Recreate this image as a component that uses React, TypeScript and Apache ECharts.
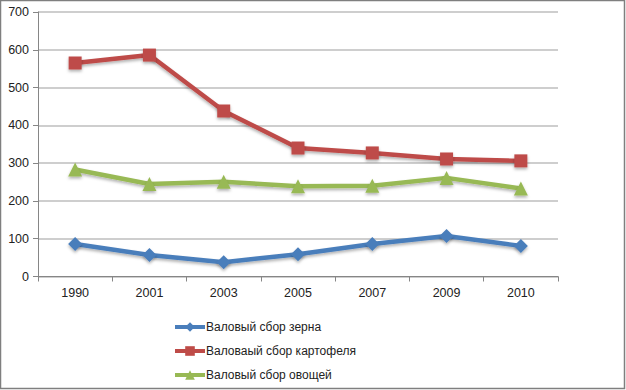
import React, { useEffect, useRef } from "react";
import * as echarts from "echarts";

const categories = ["1990", "2001", "2003", "2005", "2007", "2009", "2010"];
const grain = [86, 57, 38, 59, 86, 107, 81];
const potato = [565, 586, 438, 340, 327, 311, 306];
const vegetables = [283, 245, 251, 239, 240, 261, 233];
const seriesNames = ["Валовый сбор зерна", "Валоваый сбор картофеля", "Валовый сбор овощей"];

export default function App() {
  const ref = useRef<HTMLDivElement>(null);
  useEffect(() => {
    document.body.style.margin = "0";
    const chart = echarts.init(ref.current!, null, { renderer: "svg" });
    const font = "Liberation Sans";
    const mk = (name: string, data: number[], color: string, symbol: string, size: number) => ({
      name,
      type: "line",
      data,
      symbol,
      symbolSize: size,
      lineStyle: { width: 4.5, color, shadowColor: "rgba(0,0,0,0.3)", shadowBlur: 3, shadowOffsetY: 2 },
      itemStyle: { color, shadowColor: "rgba(0,0,0,0.3)", shadowBlur: 3, shadowOffsetY: 2 },
      emphasis: { disabled: true },
    });
    chart.setOption({
      animation: false,
      textStyle: { fontFamily: font },
      grid: { left: 38, right: 68, top: 12, bottom: 113.5, containLabel: false },
      xAxis: {
        type: "category",
        data: categories,
        boundaryGap: true,
        axisLine: { lineStyle: { color: "#868686", width: 1 } },
        axisTick: { show: true, length: 5, lineStyle: { color: "#868686" } },
        axisLabel: { color: "#222", fontSize: 12.5, margin: 10, fontFamily: font },
      },
      yAxis: {
        type: "value",
        min: 0,
        max: 700,
        interval: 100,
        axisLine: { show: true, lineStyle: { color: "#868686", width: 1 } },
        axisTick: { show: true, length: 5, lineStyle: { color: "#868686" } },
        axisLabel: { color: "#222", fontSize: 12.5, margin: 9, fontFamily: font },
        splitLine: { lineStyle: { color: "#BEBEBE", width: 1.5 } },
      },
      legend: {
        orient: "vertical",
        left: 173,
        top: 321,
        padding: 0,
        itemWidth: 30,
        itemHeight: 12,
        itemGap: 12,
        data: seriesNames,
        lineStyle: { width: 4 },
        textStyle: { color: "#222", fontSize: 12, fontFamily: font, padding: [0, 0, 0, -4] },
      },
      graphic: [
        {
          type: "rect",
          shape: { x: 0.5, y: 0.5, width: 624, height: 388 },
          style: { fill: "none", stroke: "#7f7f7f", lineWidth: 1.5 },
          silent: true,
        },
      ],
      series: [
        mk(seriesNames[0], grain, "#4A7EBB", "diamond", 14),
        mk(seriesNames[1], potato, "#BE4B48", "rect", 13),
        mk(seriesNames[2], vegetables, "#98B954", "triangle", 14),
      ],
    });
    return () => chart.dispose();
  }, []);
  return <div ref={ref} style={{ width: 626, height: 390 }} />;
}
